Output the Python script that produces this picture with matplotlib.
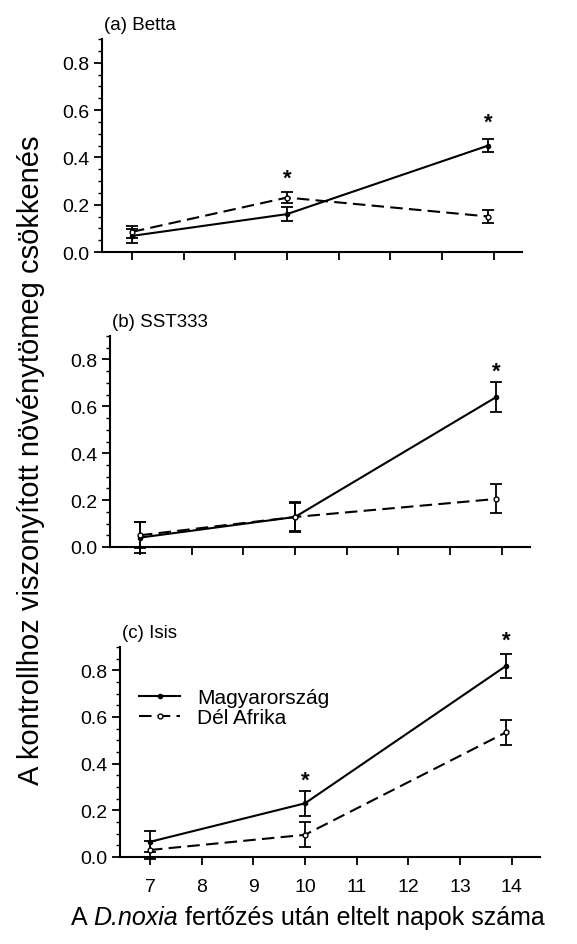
import matplotlib
matplotlib.use("Agg")
import matplotlib.pyplot as plt
from matplotlib.lines import Line2D
from matplotlib.ticker import MultipleLocator

plt.rcParams["font.family"] = ["Liberation Sans", "DejaVu Sans"]

# Days after infestation
days = [7, 10, 13.9]
day_ticks = [7, 8, 9, 10, 11, 12, 13, 14]

series_names = ["Magyarország", "Dél Afrika"]
panel_titles = ["(a) Betta", "(b) SST333", "(c) Isis"]

# Relative biomass reduction (mean, error) per cultivar
betta_hu = [0.068, 0.16, 0.45]
betta_hu_err = [0.03, 0.03, 0.027]
betta_za = [0.085, 0.23, 0.15]
betta_za_err = [0.025, 0.025, 0.027]
betta_star = [(10, 0.31), (13.9, 0.55)]

sst_hu = [0.04, 0.128, 0.64]
sst_hu_err = [0.065, 0.064, 0.063]
sst_za = [0.05, 0.128, 0.205]
sst_za_err = [0.055, 0.06, 0.062]
sst_star = [(13.9, 0.75)]

isis_hu = [0.065, 0.23, 0.82]
isis_hu_err = [0.045, 0.053, 0.052]
isis_za = [0.03, 0.095, 0.535]
isis_za_err = [0.04, 0.054, 0.054]
isis_star = [(10, 0.33), (13.9, 0.93)]

panels = [
    (betta_hu, betta_hu_err, betta_za, betta_za_err, betta_star),
    (sst_hu, sst_hu_err, sst_za, sst_za_err, sst_star),
    (isis_hu, isis_hu_err, isis_za, isis_za_err, isis_star),
]

hu_style = dict(color="black", lw=1.5, ls="-", marker="o", ms=3, mfc="black")
za_style = dict(color="black", lw=1.5, ls=(0, (6, 3)), marker="o", ms=3.5,
                mfc="white")
err_style = dict(capsize=4, elinewidth=1.3, capthick=1.3, clip_on=False)

W, H = 577, 945
fig = plt.figure(figsize=(W / 100, H / 100), dpi=100)

# axes boxes in pixels: left, bottom (y of 0.0), top
boxes = [(102, 253, 40), (110, 548, 337), (120, 858, 648)]
ax_w = 420

for i, ((hu, hu_e, za, za_e, stars), (lpx, bpx, tpx)) in enumerate(zip(panels, boxes)):
    ax = fig.add_axes([lpx / W, 1 - bpx / H, ax_w / W, (bpx - tpx) / H])
    ax.errorbar(days, hu, yerr=hu_e, **hu_style, **err_style)
    ax.errorbar(days, za, yerr=za_e, **za_style, **err_style)
    for sx, sy in stars:
        ax.text(sx, sy, "*", ha="center", va="center", fontsize=16,
                fontweight="bold", clip_on=False)
    ax.set_xlim(6.42, 14.55)
    ax.set_ylim(0, 0.9)
    ax.set_xticks(day_ticks)
    ax.yaxis.set_minor_locator(MultipleLocator(0.05))
    ax.set_yticks([0.0, 0.2, 0.4, 0.6, 0.8])
    ax.set_yticklabels(["0.0", "0.2", "0.4", "0.6", "0.8"])
    for s in ("top", "right"):
        ax.spines[s].set_visible(False)
    for s in ("left", "bottom"):
        ax.spines[s].set_linewidth(1.5)
    ax.tick_params(axis="both", which="major", direction="out", length=6,
                   width=1.3, labelsize=14, pad=3)
    ax.tick_params(axis="y", which="minor", direction="out", length=3, width=1.0)
    if i < 2:
        ax.tick_params(axis="x", labelbottom=False)
    else:
        ax.tick_params(axis="x", pad=9)
        handles = [Line2D([], [], **hu_style), Line2D([], [], **za_style)]
        ax.legend(handles, series_names, loc="upper left",
                  bbox_to_anchor=(0.0, 0.895), frameon=False, fontsize=15,
                  handlelength=2.0, handletextpad=0.8, labelspacing=0.05)
    ax.text(0.005, 1.03, panel_titles[i], transform=ax.transAxes,
            fontsize=13.5, ha="left", va="bottom")

fig.text(31 / W, 1 - 460 / H, "A kontrollhoz viszonyított növénytömeg csökkenés",
         rotation=90, ha="center", va="center", fontsize=21)

# x-axis caption with the species name in italics, laid out piece by piece
parts = [("A ", "normal"), ("D.noxia", "italic"),
         (" fertőzés után eltelt napok száma", "normal")]
renderer = fig.canvas.get_renderer()
texts = []
for s, style in parts:
    t = fig.text(0, 1 - 918 / H, s, fontsize=18, style=style,
                 ha="left", va="center")
    texts.append(t)
widths = [t.get_window_extent(renderer).width for t in texts]
x = 308 - sum(widths) / 2
for t, w in zip(texts, widths):
    t.set_x(x / W)
    x += w

fig.savefig("out.png", dpi=100, facecolor="white")
